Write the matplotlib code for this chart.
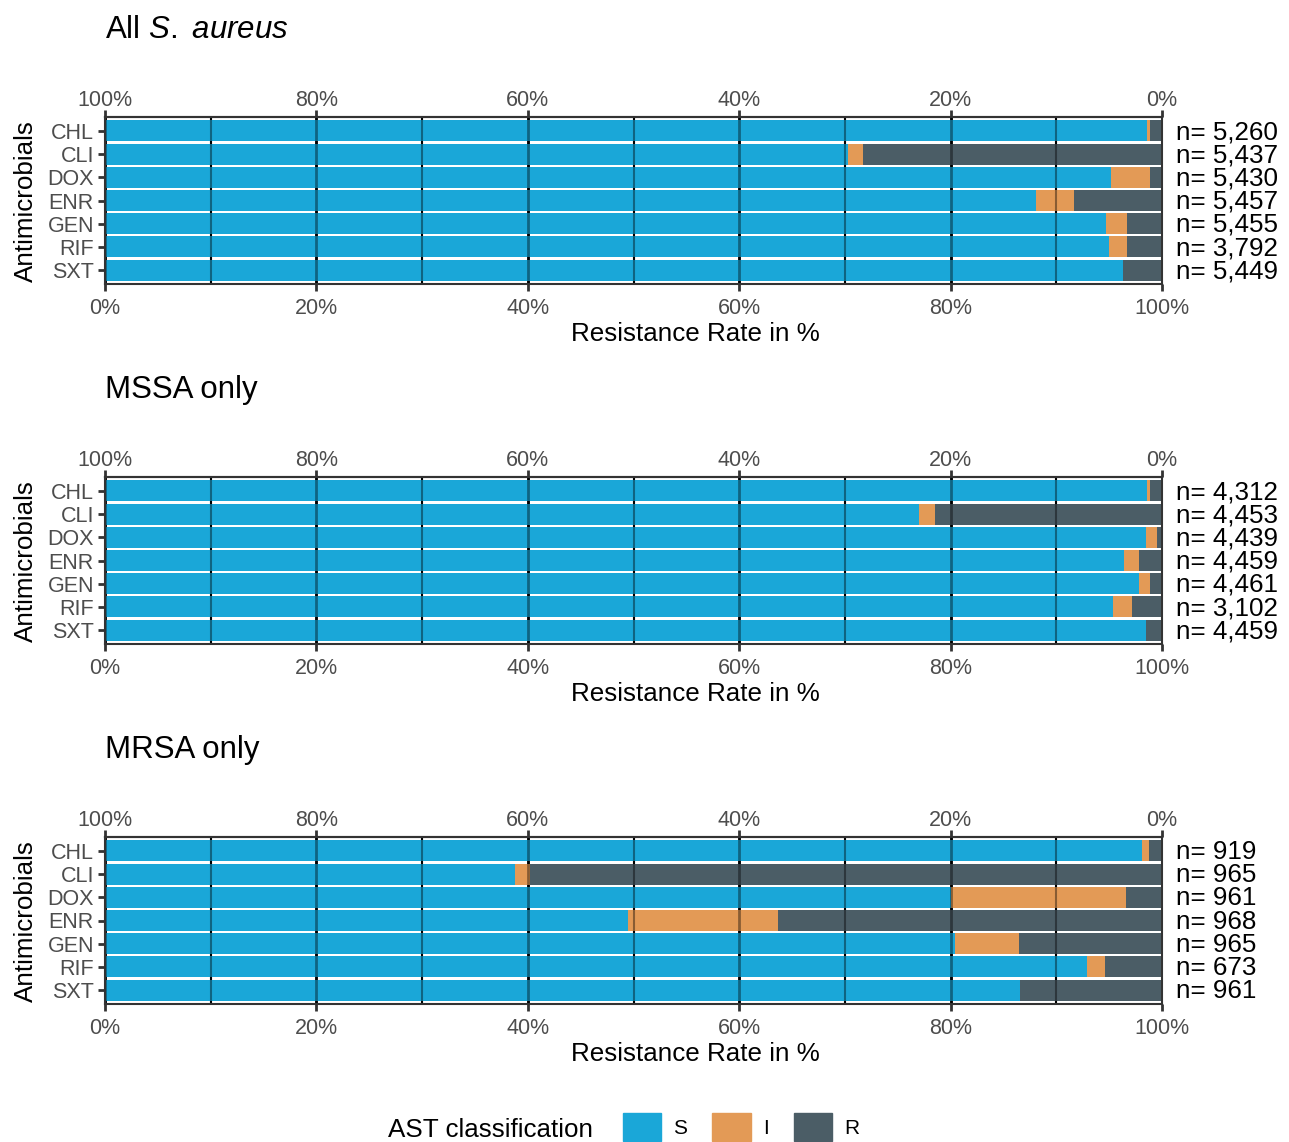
import numpy as np
import matplotlib
matplotlib.use("Agg")
import matplotlib.pyplot as plt
from matplotlib.patches import Patch

plt.rcParams['font.family'] = ['Liberation Sans', 'DejaVu Sans']
plt.rcParams['mathtext.fontset'] = 'custom'
plt.rcParams['mathtext.rm'] = 'Liberation Sans'
plt.rcParams['mathtext.it'] = 'Liberation Sans:italic'

drugs = ["CHL", "CLI", "DOX", "ENR", "GEN", "RIF", "SXT"]

# susceptible / intermediate / resistant shares in %
all_s = [98.6, 70.3, 95.2, 88.1, 94.7, 95.0, 96.3]
all_i = [0.3, 1.4, 3.7, 3.6, 2.0, 1.7, 0.0]
all_r = [1.1, 28.3, 1.1, 8.3, 3.3, 3.3, 3.7]
all_n = ["5,260", "5,437", "5,430", "5,457", "5,455", "3,792", "5,449"]

mssa_s = [98.6, 77.0, 98.5, 96.4, 97.8, 95.4, 98.5]
mssa_i = [0.3, 1.5, 1.0, 1.4, 1.1, 1.8, 0.0]
mssa_r = [1.1, 21.5, 0.5, 2.2, 1.1, 2.8, 1.5]
mssa_n = ["4,312", "4,453", "4,439", "4,459", "4,461", "3,102", "4,459"]

mrsa_s = [98.1, 38.8, 80.0, 49.5, 80.4, 92.9, 86.6]
mrsa_i = [0.7, 1.4, 16.6, 14.2, 6.1, 1.7, 0.0]
mrsa_r = [1.2, 59.8, 3.4, 36.3, 13.5, 5.4, 13.4]
mrsa_n = ["919", "965", "961", "968", "965", "673", "961"]

panels = [
    ("All $\\it{S.\\ aureus}$", all_s, all_i, all_r, all_n),
    ("MSSA only", mssa_s, mssa_i, mssa_r, mssa_n),
    ("MRSA only", mrsa_s, mrsa_i, mrsa_r, mrsa_n),
]

col_s = "#1AA7D8"
col_i = "#E39A56"
col_r = "#4B5D66"
axcol = "#333333"
tickcol = "#4D4D4D"

W, H = 1289, 1142
fig = plt.figure(figsize=(W / 100, H / 100), dpi=100)

tops = [117, 477, 837]
x0, x1 = 105, 1162
ax_h = 167
tick_fs = 15.5

for (title, s, i, r, n), top in zip(panels, tops):
    ax = fig.add_axes([x0 / W, (H - top - ax_h) / H, (x1 - x0) / W, ax_h / H])
    y = np.arange(len(drugs))
    s = np.array(s)
    i = np.array(i)
    r = np.array(r)

    # grid under the bars (visible in the white gaps)
    for g in range(0, 101, 10):
        lw = 2.0 if g % 20 == 0 else 1.5
        ax.axvline(g, color="black", lw=lw, zorder=0)

    ax.barh(y, s, height=0.9, color=col_s, zorder=2)
    ax.barh(y, i, left=s, height=0.9, color=col_i, zorder=2)
    ax.barh(y, r, left=s + i, height=0.9, color=col_r, zorder=2)

    # grid showing through the bars
    for g in range(0, 101, 10):
        lw = 2.0 if g % 20 == 0 else 1.5
        ax.axvline(g, color="black", lw=lw, alpha=0.4, zorder=3)

    ax.set_xlim(0, 100)
    ax.set_ylim(len(drugs) - 0.4, -0.6)
    ax.set_yticks(y)
    ax.set_yticklabels(drugs)
    ax.set_xticks(np.arange(0, 101, 20))
    ax.set_xticklabels([f"{v}%" for v in range(0, 101, 20)])
    ax.tick_params(axis="both", colors=axcol, labelcolor=tickcol, labelsize=tick_fs,
                   length=5, width=2, pad=3)
    ax.tick_params(axis="x", pad=5)
    for sp in ax.spines.values():
        sp.set_color(axcol)
        sp.set_linewidth(1.5)
        sp.set_zorder(4)

    sec = ax.secondary_xaxis("top", functions=(lambda v: 100 - v, lambda v: 100 - v))
    sec.set_xticks(np.arange(0, 101, 20))
    sec.set_xticklabels([f"{v}%" for v in range(0, 101, 20)])
    sec.tick_params(colors=axcol, labelcolor=tickcol, labelsize=tick_fs,
                    length=5, width=2, pad=-1)
    sec.spines["top"].set_color(axcol)
    sec.spines["top"].set_linewidth(1.5)

    for yy, lab in zip(y, n):
        ax.text(101.3, yy + 0.05, f"n= {lab}", fontsize=18.7, color="black",
                va="center", ha="left", clip_on=False)

    bottom = top + ax_h
    fig.text(695 / W, 1 - (bottom + 50) / H, "Resistance Rate in %",
             fontsize=18.7, ha="center", va="center")
    fig.text(26 / W, 1 - (top + 84) / H, "Antimicrobials", fontsize=18.7,
             ha="center", va="center", rotation=90)
    fig.text(x0 / W, 1 - (top - 87) / H, title, fontsize=22.5,
             ha="left", va="center")

handles = [Patch(color=col_s), Patch(color=col_i), Patch(color=col_r)]
fig.legend(handles, ["S", "I", "R"], ncol=3, frameon=False, fontsize=15,
           loc="center left", bbox_to_anchor=(604 / W, 1 - 1127 / H),
           handlelength=1.83, handleheight=1.75, handletextpad=0.6,
           columnspacing=1.2)
fig.text(388 / W, 1 - 1130 / H, "AST classification", fontsize=18.7,
         ha="left", va="center")

fig.savefig("out.png", dpi=100)
